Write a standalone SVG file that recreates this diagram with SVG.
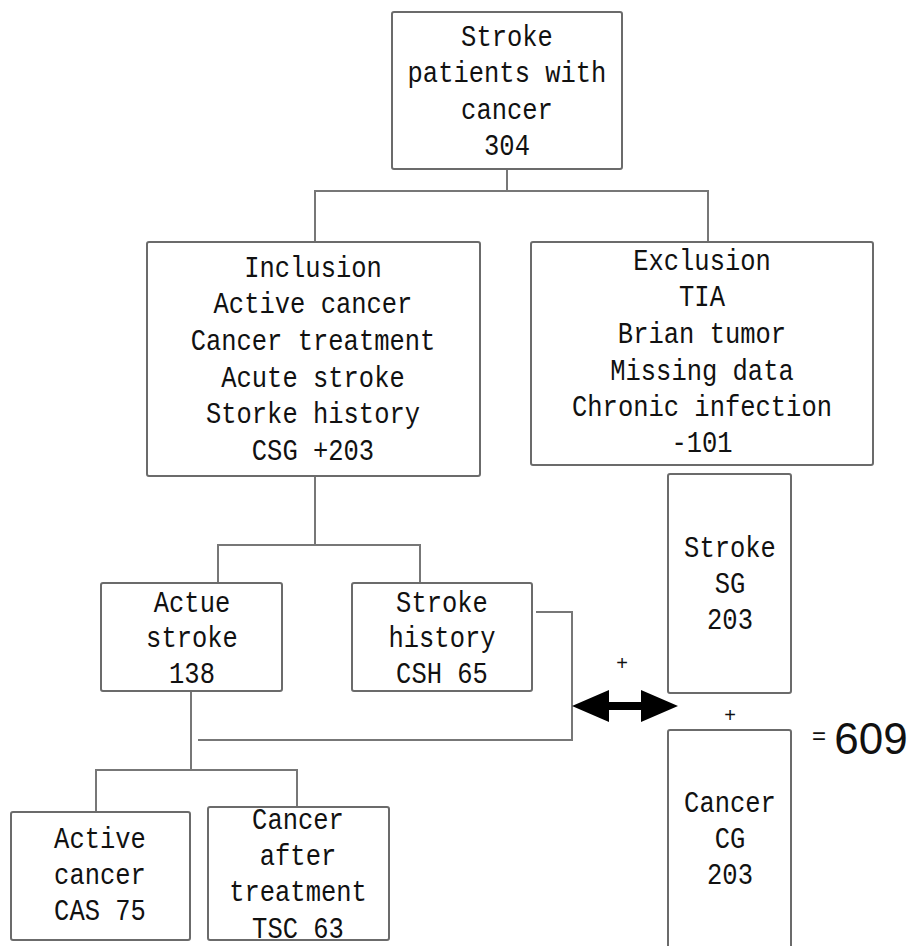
<svg xmlns="http://www.w3.org/2000/svg" width="908" height="946" viewBox="0 0 908 946">
<style>
.box{fill:#fff;stroke:#6b6b6b;stroke-width:2}
.t{font-family:"Liberation Mono","DejaVu Sans Mono",monospace;font-size:25.5px;fill:#111;text-anchor:middle}
.ln{fill:none;stroke:#777;stroke-width:2}
.s{font-family:"Liberation Sans",Arial,sans-serif;fill:#111;text-anchor:middle}
</style>
<rect width="908" height="946" fill="#fff"/>
<g id="connectors">
<polyline class="ln" points="507,169 507,191"/>
<polyline class="ln" points="315,242 315,191 708,191 708,242"/>
<polyline class="ln" points="315,476 315,545"/>
<polyline class="ln" points="218,583 218,545 420,545 420,583"/>
<polyline class="ln" points="536,612 572,612 572,740 198,740"/>
<polyline class="ln" points="191,691 191,770"/>
<polyline class="ln" points="96,812 96,770 297,770 297,807"/>
<polygon id="double-arrow" fill="#000" points="572,706 609,690 609,702 641,702 641,690 678,706 641,722 641,710 609,710 609,722"/>
</g>
<g id="n-top">
<rect class="box" x="392" y="12" width="230" height="157" rx="2"/>
<g transform="scale(1,1.18)">
<text class="t" x="507" y="38.98">Stroke</text>
<text class="t" x="507" y="69.49">patients with</text>
<text class="t" x="507" y="100.85">cancer</text>
<text class="t" x="507" y="131.36">304</text>
</g>
</g>
<g id="n-inclusion">
<rect class="box" x="147" y="242" width="333" height="234" rx="2"/>
<g transform="scale(1,1.18)">
<text class="t" x="313" y="234.75">Inclusion</text>
<text class="t" x="313" y="265.25">Active cancer</text>
<text class="t" x="313" y="296.61">Cancer treatment</text>
<text class="t" x="313" y="327.97">Acute stroke</text>
<text class="t" x="313" y="358.47">Storke history</text>
<text class="t" x="313" y="389.83">CSG +203</text>
</g>
</g>
<g id="n-exclusion">
<rect class="box" x="531" y="242" width="342" height="223" rx="2"/>
<g transform="scale(1,1.18)">
<text class="t" x="702" y="228.81">Exclusion</text>
<text class="t" x="702" y="259.32">TIA</text>
<text class="t" x="702" y="290.68">Brian tumor</text>
<text class="t" x="702" y="322.03">Missing data</text>
<text class="t" x="702" y="352.54">Chronic infection</text>
<text class="t" x="702" y="383.05">-101</text>
</g>
</g>
<g id="n-acute">
<rect class="box" x="101" y="583" width="181" height="108" rx="2"/>
<g transform="scale(1,1.18)">
<text class="t" x="192" y="518.64">Actue</text>
<text class="t" x="192" y="548.31">stroke</text>
<text class="t" x="192" y="578.81">138</text>
</g>
</g>
<g id="n-history">
<rect class="box" x="352" y="583" width="180" height="108" rx="2"/>
<g transform="scale(1,1.18)">
<text class="t" x="442" y="518.64">Stroke</text>
<text class="t" x="442" y="548.31">history</text>
<text class="t" x="442" y="578.81">CSH 65</text>
</g>
</g>
<g id="n-active">
<rect class="box" x="11" y="812" width="179" height="128" rx="2"/>
<g transform="scale(1,1.18)">
<text class="t" x="100" y="718.64">Active</text>
<text class="t" x="100" y="749.15">cancer</text>
<text class="t" x="100" y="779.66">CAS 75</text>
</g>
</g>
<g id="n-after">
<rect class="box" x="208" y="807" width="181" height="133" rx="2"/>
<g transform="scale(1,1.18)">
<text class="t" x="298" y="702.54">Cancer</text>
<text class="t" x="298" y="733.05">after</text>
<text class="t" x="298" y="763.56">treatment</text>
<text class="t" x="298" y="794.92">TSC 63</text>
</g>
</g>
<g id="n-sg">
<rect class="box" x="668" y="474" width="123" height="219" rx="2"/>
<g transform="scale(1,1.18)">
<text class="t" x="730" y="472.03">Stroke</text>
<text class="t" x="730" y="502.54">SG</text>
<text class="t" x="730" y="533.05">203</text>
</g>
</g>
<g id="n-cg">
<rect class="box" x="668" y="730" width="123" height="230" rx="2"/>
<g transform="scale(1,1.18)">
<text class="t" x="730" y="688.14">Cancer</text>
<text class="t" x="730" y="718.64">CG</text>
<text class="t" x="730" y="749.15">203</text>
</g>
</g>
<g id="labels">
<text class="s" x="622" y="670" font-size="20">+</text>
<text class="s" x="730" y="722" font-size="20">+</text>
<text class="s" x="819" y="744" font-size="24">=</text>
<text class="s" x="871" y="754" font-size="44">609</text>
</g>
</svg>
